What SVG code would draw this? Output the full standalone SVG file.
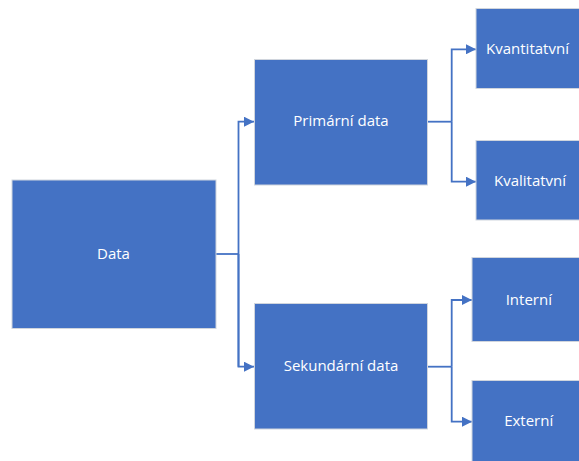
<svg xmlns="http://www.w3.org/2000/svg" width="579" height="461" viewBox="0 0 579 461">
<style>
.box{fill:#4472C4;stroke:#D0D5DD;stroke-width:1}
.lbl{fill:#FFFFFF;font-family:"Open Sans","Liberation Sans",sans-serif;font-size:15px;text-anchor:middle;dominant-baseline:central}
.con{fill:none;stroke:#4472C4;stroke-width:1.8}
</style>
<defs>
<marker id="ah" viewBox="0 0 10 10" refX="10" refY="5" markerWidth="10" markerHeight="10" markerUnits="userSpaceOnUse" orient="auto">
<path d="M0,0 L10,5 L0,10 Z" fill="#4472C4"/>
</marker>
</defs>
<rect width="579" height="461" fill="#FFFFFF"/>
<g id="connectors">
<path class="con" d="M216,254 H238.5"/>
<path class="con" d="M238.5,366.7 V121.7 H254" marker-end="url(#ah)"/>
<path class="con" d="M238.5,254 V366.7 H254" marker-end="url(#ah)"/>
<path class="con" d="M428,121.7 H451.7"/>
<path class="con" d="M451.7,121.7 V49.3 H476" marker-end="url(#ah)"/>
<path class="con" d="M451.7,121.7 V181.7 H476" marker-end="url(#ah)"/>
<path class="con" d="M428,366.7 H451.7"/>
<path class="con" d="M451.7,366.7 V300 H472" marker-end="url(#ah)"/>
<path class="con" d="M451.7,366.7 V421.7 H472" marker-end="url(#ah)"/>
</g>
<g id="node-data">
<rect class="box" x="12" y="180" width="204" height="148.5"/>
<text class="lbl" x="113.5" y="252.5">Data</text>
</g>
<g id="node-primarni">
<rect class="box" x="254.5" y="59.5" width="173" height="125.5"/>
<text class="lbl" x="341" y="120.2">Primární data</text>
</g>
<g id="node-sekundarni">
<rect class="box" x="254.5" y="303.5" width="173" height="125.5"/>
<text class="lbl" x="341" y="365.2">Sekundární data</text>
</g>
<g id="node-kvantitativni">
<rect class="box" x="476" y="8.5" width="110" height="80"/>
<text class="lbl" x="527.5" y="47.8">Kvantitatvní</text>
</g>
<g id="node-kvalitativni">
<rect class="box" x="476" y="140.5" width="110" height="79.5"/>
<text class="lbl" x="530" y="180.2">Kvalitatvní</text>
</g>
<g id="node-interni">
<rect class="box" x="472" y="257.5" width="114" height="84"/>
<text class="lbl" x="528.8" y="298.5">Interní</text>
</g>
<g id="node-externi">
<rect class="box" x="472" y="380.5" width="114" height="90"/>
<text class="lbl" x="528.7" y="420.2">Externí</text>
</g>
</svg>
